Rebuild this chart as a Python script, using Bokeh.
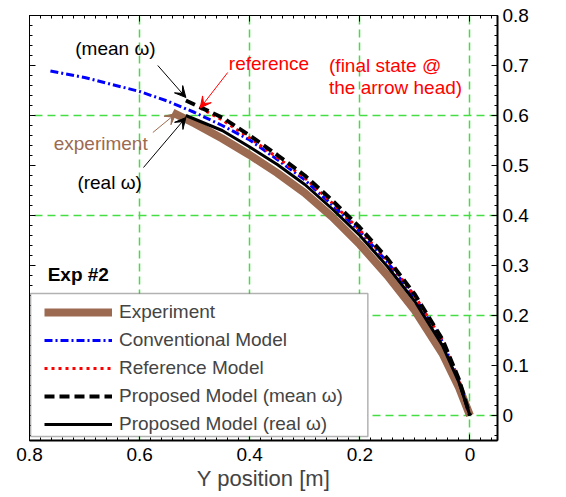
import math
import numpy as np
from bokeh.plotting import figure
from bokeh.models import (Range1d, LinearAxis, FixedTicker, CustomJSTickFormatter,
                          Legend, LegendItem, Label, Arrow, VeeHead, BoxAnnotation, Grid)
from bokeh.embed import file_html
from bokeh.resources import INLINE

# Trajectories: horizontal = Y position [m], vertical = X position [m]
exp_ypos = [0.540, 0.500, 0.450, 0.400, 0.350, 0.300, 0.250, 0.200, 0.150, 0.100, 0.050, 0.020, 0.000]
exp_xpos = [0.606, 0.584, 0.554, 0.521, 0.485, 0.445, 0.397, 0.342, 0.280, 0.210, 0.124, 0.056, 0.000]

conv_ypos = [0.762, 0.700, 0.650, 0.600, 0.550, 0.500, 0.450, 0.400, 0.350, 0.300, 0.250, 0.200,
             0.150, 0.100, 0.050, 0.020, 0.000]
conv_xpos = [0.689, 0.676, 0.662, 0.648, 0.629, 0.606, 0.580, 0.551, 0.512, 0.471, 0.421, 0.368,
             0.307, 0.236, 0.148, 0.071, 0.000]

ref_ypos = [0.490, 0.450, 0.400, 0.350, 0.300, 0.250, 0.200, 0.150, 0.100, 0.050, 0.020, 0.000]
ref_xpos = [0.615, 0.591, 0.555, 0.516, 0.475, 0.425, 0.371, 0.310, 0.239, 0.150, 0.071, 0.000]

mean_ypos = [0.516, 0.450, 0.400, 0.350, 0.300, 0.250, 0.200, 0.150, 0.100, 0.050, 0.020, 0.000]
mean_xpos = [0.630, 0.596, 0.560, 0.521, 0.480, 0.430, 0.376, 0.314, 0.242, 0.152, 0.072, 0.000]

real_ypos = [0.516, 0.450, 0.400, 0.350, 0.300, 0.250, 0.200, 0.150, 0.100, 0.050, 0.020, 0.000]
real_xpos = [0.600, 0.570, 0.537, 0.502, 0.462, 0.413, 0.360, 0.298, 0.228, 0.140, 0.066, 0.000]

series_names = ["Experiment", "Conventional Model", "Reference Model",
                "Proposed Model (mean ω)", "Proposed Model (real ω)"]

x_tick_values = [0.0, 0.2, 0.4, 0.6, 0.8]
x_tick_labels = ["0", "0.2", "0.4", "0.6", "0.8"]
y_tick_values = [0.0, 0.1, 0.2, 0.3, 0.4, 0.5, 0.6, 0.7, 0.8]
y_tick_labels = ["0", "0.1", "0.2", "0.3", "0.4", "0.5", "0.6", "0.7", "0.8"]
grid_values = [0.0, 0.2, 0.4, 0.6]
minor_values = [float(v) for v in np.round(np.arange(-0.04, 0.801, 0.02), 2)]

FONT = "Liberation Sans"
BROWN = "#9c6a50"
GREEN = "#44dd44"

p = figure(width=566, height=497, output_backend="svg", toolbar_location=None,
           x_range=Range1d(0.8, -0.05), y_range=Range1d(-0.05, 0.8),
           y_axis_location="right", min_border_left=29, min_border_top=15,
           min_border_right=69, min_border_bottom=57)
p.outline_line_color = "black"
p.outline_line_width = 1
p.background_fill_color = "white"
p.border_fill_color = "white"

# grid: green dashed lines
p.xgrid.visible = False
p.ygrid.visible = False
for dim in (0, 1):
    g = Grid(dimension=dim, ticker=FixedTicker(ticks=grid_values),
             grid_line_color=GREEN, grid_line_width=1.5, grid_line_dash="8 5")
    p.add_layout(g, "center")


def fmt(vals, labs):
    return CustomJSTickFormatter(args=dict(vals=vals, labs=labs), code="""
        for (let i = 0; i < vals.length; i++) {
            if (Math.abs(vals[i] - tick) < 1e-9) return labs[i];
        }
        return '';
    """)


def style_axis(ax, lw):
    ax.axis_line_color = "black"
    ax.axis_line_width = lw
    ax.major_tick_in = 6
    ax.major_tick_out = 0
    ax.minor_tick_in = 3
    ax.minor_tick_out = 0
    ax.major_tick_line_color = "black"
    ax.minor_tick_line_color = "black"
    ax.major_label_text_font = FONT
    ax.major_label_text_color = "black"


xaxis = p.xaxis[0]
xaxis.ticker = FixedTicker(ticks=x_tick_values, minor_ticks=minor_values)
xaxis.formatter = fmt(x_tick_values, x_tick_labels)
style_axis(xaxis, 2)
xaxis.major_label_text_font_size = "19px"
xaxis.major_label_standoff = 7
xaxis.axis_label = "Y position [m]"
xaxis.axis_label_text_font = FONT
xaxis.axis_label_text_font_size = "22px"
xaxis.axis_label_text_font_style = "normal"
xaxis.axis_label_standoff = 2

yaxis = p.yaxis[0]
yaxis.ticker = FixedTicker(ticks=y_tick_values, minor_ticks=minor_values)
yaxis.formatter = fmt(y_tick_values, y_tick_labels)
style_axis(yaxis, 2)
yaxis.major_label_text_font_size = "19px"
yaxis.major_label_standoff = 5

# mirrored tick marks on the top and left edges
for side, tv in (("left", y_tick_values), ("above", x_tick_values)):
    ax = LinearAxis(ticker=FixedTicker(ticks=tv, minor_ticks=minor_values),
                    formatter=CustomJSTickFormatter(code="return '';"))
    style_axis(ax, 1)
    ax.major_label_text_font_size = "0px"
    ax.major_label_standoff = 0
    p.add_layout(ax, side)

# curves
r_exp = p.line(exp_ypos, exp_xpos, line_color=BROWN, line_width=8, line_join="round")
r_conv = p.line(conv_ypos, conv_xpos, line_color="#0000ff", line_width=3, line_dash="8 3 2 3")
r_ref = p.line(ref_ypos, ref_xpos, line_color="#ff0000", line_width=3, line_dash="3 4")
r_mean = p.line(mean_ypos, mean_xpos, line_color="black", line_width=4, line_dash="10 5")
r_real = p.line(real_ypos, real_xpos, line_color="black", line_width=3, line_join="round")

# annotations pointing at the final states (first point of each trajectory)
def arrow(x0, y0, x1, y1, color):
    p.add_layout(Arrow(x_start=x0, y_start=y0, x_end=x1, y_end=y1, line_color=color,
                       line_width=1,
                       end=VeeHead(size=11, fill_color=color, line_color=color, line_width=1)))

arrow(0.567, 0.700, mean_ypos[0], mean_xpos[0] + 0.006, "black")
arrow(0.440, 0.686, ref_ypos[0], ref_xpos[0], "#ff0000")
arrow(0.576, 0.566, exp_ypos[0] - 0.006, exp_xpos[0] - 0.002, BROWN)
arrow(0.593, 0.496, real_ypos[0], real_xpos[0] - 0.004, "black")


def label(x, y, text, color="black", align="left", style="normal", size="19px", angle=0.0):
    p.add_layout(Label(x=x, y=y, text=text, text_color=color, text_align=align,
                       text_baseline="middle", text_font=FONT, text_font_size=size,
                       text_font_style=style, angle=angle))

label(0.644, 0.734, "(mean ω)", align="center")
label(0.438, 0.704, "reference", color="#ff0000")
label(0.256, 0.700, "(final state @", color="#ff0000")
label(0.256, 0.656, "the arrow head)", color="#ff0000")
label(0.756, 0.544, "experiment", color=BROWN)
label(0.713, 0.466, "(real ω)")
label(0.767, 0.282, "Exp #2", style="bold", size="19px")

# right-hand axis title, reading bottom to top
label(-0.146, 0.374, "X position [m]", align="center", size="22px", angle=math.pi / 2)

# legend frame
p.add_layout(BoxAnnotation(left=0.798, right=0.1855, bottom=-0.042, top=0.244,
                           fill_color="white", fill_alpha=1.0,
                           line_color="black", line_width=1.5))

legend = Legend(items=[LegendItem(label=n, renderers=[r]) for n, r in
                       zip(series_names, [r_exp, r_conv, r_ref, r_mean, r_real])],
                location=(15, 5), padding=5, spacing=6,
                glyph_width=68, glyph_height=20, label_standoff=7,
                label_text_font=FONT, label_text_font_size="19px",
                border_line_color=None, background_fill_alpha=0.0)
p.add_layout(legend, "center")

open("out.html", "w").write(file_html(p, INLINE))
